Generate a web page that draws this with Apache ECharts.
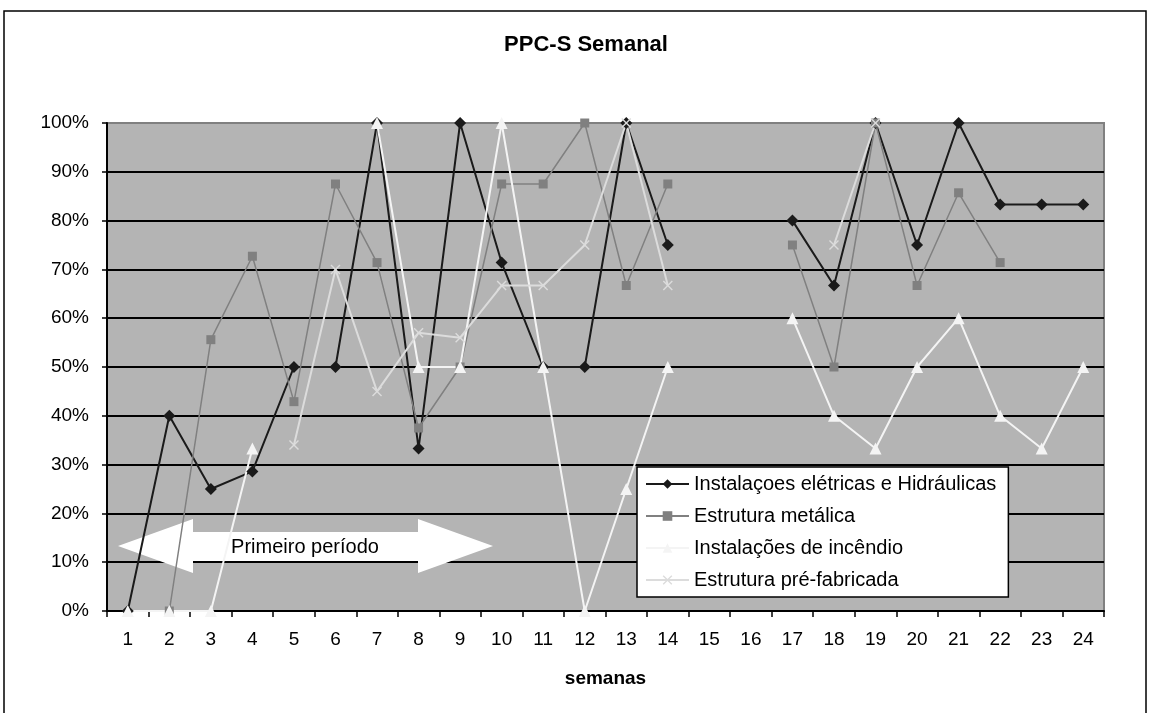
<!DOCTYPE html>
<html>
<head>
<meta charset="utf-8">
<title>PPC-S Semanal</title>
<script src="https://cdn.jsdelivr.net/npm/echarts@6/dist/echarts.min.js"></script>
<style>
  html, body { margin: 0; padding: 0; background: #fff; }
  #chart { width: 1150px; height: 713px; }
</style>
</head>
<body>
<div id="chart"></div>
<script>
// Weeks (semanas) on the category axis
const semanas = ['1','2','3','4','5','6','7','8','9','10','11','12','13','14','15','16','17','18','19','20','21','22','23','24'];

// Weekly PPC values in percent; null where there was no planned work
const instalacoesEletricas = [0, 40, 25, 28.6, 50, 50, 100, 33.3, 100, 71.4, 50, 50, 100, 75, null, null, 80, 66.7, 100, 75, 100, 83.3, 83.3, 83.3];
const estruturaMetalica = [null, 0, 55.6, 72.7, 42.9, 87.5, 71.4, 37.5, 50, 87.5, 87.5, 100, 66.7, 87.5, null, null, 75, 50, 100, 66.7, 85.7, 71.4, null, null];
const instalacoesIncendio = [0, 0, 0, 33.3, null, null, 100, 50, 50, 100, 50, 0, 25, 50, null, null, 60, 40, 33.3, 50, 60, 40, 33.3, 50];
const estruturaPreFabricada = [null, null, null, null, 34, 70, 45, 57, 56, 66.7, 66.7, 75, 100, 66.7, null, null, null, 75, 100, null, null, null, null, null];

const nomesSeries = [
  'Instalaçoes elétricas e Hidráulicas',
  'Estrutura metálica',
  'Instalações de incêndio',
  'Estrutura pré-fabricada'
];

const yTicks = [0, 10, 20, 30, 40, 50, 60, 70, 80, 90, 100];

// Cross marker drawn as a filled outline
const crossSymbol = 'path://M0,1L1,0L5,4L9,0L10,1L6,5L10,9L9,10L5,6L1,10L0,9L4,5Z';

const FONT = '"Liberation Sans", Arial, sans-serif';

function lineSeries(name, data, color, width, symbol, size) {
  return {
    name: name,
    type: 'line',
    data: data,
    symbol: symbol,
    symbolSize: size,
    showAllSymbol: true,
    connectNulls: false,
    animation: false,
    lineStyle: { color: color, width: width },
    itemStyle: { color: color, borderWidth: 0 },
    emphasis: { disabled: true }
  };
}

const chart = echarts.init(document.getElementById('chart'), null, { renderer: 'canvas' });

// black grid lines, with the top one in grey like the plot frame
const splitColors = yTicks.map((t, i) => (i === yTicks.length - 1 ? '#808080' : '#000000'));

chart.setOption({
  backgroundColor: '#ffffff',
  animation: false,
  grid: {
    left: 107, right: 46, top: 123, bottom: 102,
    show: true,
    backgroundColor: '#b4b4b4',
    borderColor: '#808080',
    borderWidth: 2
  },
  xAxis: {
    type: 'category',
    data: semanas,
    boundaryGap: true,
    name: 'semanas',
    nameLocation: 'middle',
    nameGap: 58,
    nameTextStyle: { fontFamily: FONT, fontSize: 19, fontWeight: 'bold', color: '#000' },
    axisLine: { show: true, lineStyle: { color: '#000', width: 2 } },
    axisTick: { show: true, alignWithLabel: false, length: 6, lineStyle: { color: '#000', width: 1.5 } },
    axisLabel: { fontFamily: FONT, fontSize: 19, color: '#000', margin: 19, interval: 0 },
    splitLine: { show: false }
  },
  yAxis: {
    type: 'value',
    min: 0, max: 100, interval: 10,
    axisLine: { show: true, lineStyle: { color: '#000', width: 2 } },
    axisTick: { show: true, length: 5, lineStyle: { color: '#000', width: 1.5 } },
    axisLabel: { fontFamily: FONT, fontSize: 19, color: '#000', margin: 18, formatter: '{value}%' },
    splitLine: { show: true, lineStyle: { color: splitColors, width: 2 } }
  },
  legend: {
    orient: 'vertical',
    left: 637, top: 467,
    padding: [7, 12, 7, 8],
    itemWidth: 43, itemHeight: 12, itemGap: 12,
    itemTextGap: 7,
    backgroundColor: '#ffffff',
    borderColor: '#000000',
    borderWidth: 1.5,
    borderRadius: 0,
    selectedMode: false,
    textStyle: { fontFamily: FONT, fontSize: 20, lineHeight: 20, color: '#000' },
    data: nomesSeries
  },
  series: [
    lineSeries(nomesSeries[0], instalacoesEletricas, '#1a1a1a', 2, 'diamond', 12),
    lineSeries(nomesSeries[1], estruturaMetalica, '#808080', 1.5, 'rect', 9),
    lineSeries(nomesSeries[2], instalacoesIncendio, '#f4f4f4', 2, 'triangle', 12),
    lineSeries(nomesSeries[3], estruturaPreFabricada, '#dcdcdc', 2, crossSymbol, 10)
  ],
  graphic: [
    {
      type: 'rect',
      silent: true,
      shape: { x: 4, y: 11, width: 1142, height: 720 },
      style: { fill: 'none', stroke: '#000', lineWidth: 1.5 },
      z: 10
    },
    {
      type: 'text',
      silent: true,
      style: {
        text: 'PPC-S Semanal',
        x: 586, y: 45,
        textAlign: 'center', textVerticalAlign: 'middle',
        font: 'bold 22px ' + FONT,
        fill: '#000'
      },
      z: 10
    },
    {
      // double-headed arrow marking the first period
      type: 'polygon',
      silent: true,
      shape: {
        points: [[118, 546], [193, 519], [193, 532], [418, 532], [418, 519], [493, 546], [418, 573], [418, 561], [193, 561], [193, 573]]
      },
      style: { fill: '#ffffff', stroke: 'none' },
      z: 1
    },
    {
      type: 'text',
      silent: true,
      style: {
        text: 'Primeiro período',
        x: 305, y: 547,
        textAlign: 'center', textVerticalAlign: 'middle',
        font: '20px ' + FONT,
        fill: '#000'
      },
      z: 1
    }
  ]
});
</script>
</body>
</html>
